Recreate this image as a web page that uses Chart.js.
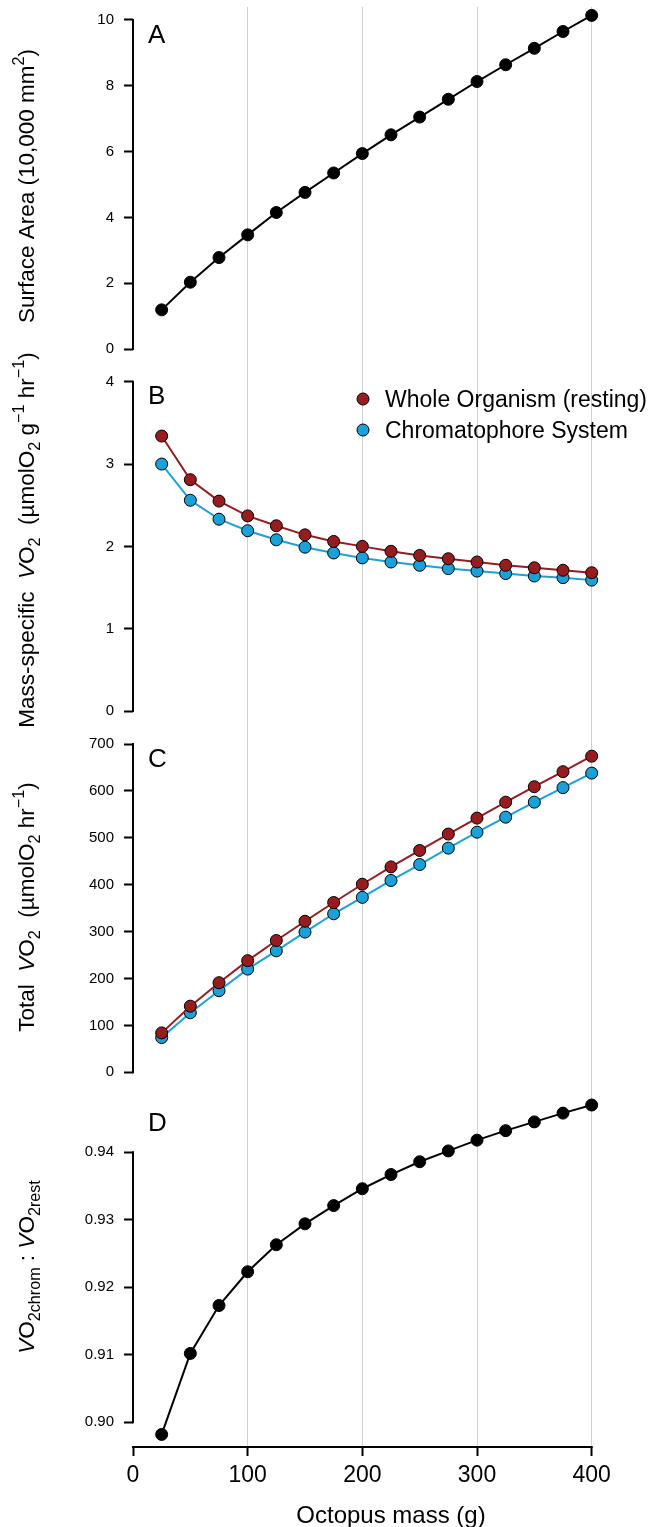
<!DOCTYPE html>
<html><head><meta charset="utf-8">
<script src="https://cdn.jsdelivr.net/npm/chart.js@4.4.1/dist/chart.umd.min.js"></script>
<style>html,body{margin:0;padding:0;background:#fff}canvas{display:block}</style>
</head><body>
<canvas id="c" width="672" height="1527"></canvas>
<script>
// ---------------- DATA ----------------
const mass = [25, 50, 75, 100, 125, 150, 175, 200, 225, 250, 275, 300, 325, 350, 375, 400];
const surfaceArea = [1.19, 2.03, 2.78, 3.47, 4.15, 4.76, 5.35, 5.94, 6.51, 7.05, 7.59, 8.13, 8.64, 9.14, 9.65, 10.14];
const msWhole = [3.34, 2.81, 2.55, 2.37, 2.25, 2.14, 2.06, 2.00, 1.94, 1.89, 1.85, 1.81, 1.77, 1.74, 1.71, 1.68];
const msChrom = [3.00, 2.56, 2.33, 2.19, 2.08, 1.99, 1.92, 1.86, 1.81, 1.77, 1.73, 1.70, 1.67, 1.64, 1.62, 1.59];
const totWhole = [84, 141, 191, 238, 281, 322, 362, 401, 438, 473, 508, 542, 576, 609, 641, 674];
const totChrom = [74, 127, 174, 220, 259, 299, 338, 373, 409, 443, 478, 512, 544, 576, 607, 638];
const ratio = [0.8982, 0.9102, 0.9173, 0.9223, 0.9263, 0.9294, 0.9321, 0.9346, 0.9367, 0.9386, 0.9402, 0.9418, 0.9432, 0.9445, 0.9458, 0.9470];
const seriesNames = ['Whole Organism (resting)', 'Chromatophore System'];
const xTicks = [0, 100, 200, 300, 400];
const yTicksA = [0, 2, 4, 6, 8, 10];
const yTicksB = [0, 1, 2, 3, 4];
const yTicksC = [0, 100, 200, 300, 400, 500, 600, 700];
const yTicksD = [0.90, 0.91, 0.92, 0.93, 0.94];
const yTickLabelsD = ['0.90', '0.91', '0.92', '0.93', '0.94'];
const panelLetters = ['A', 'B', 'C', 'D'];
const xTitle = 'Octopus mass (g)';
const titleA = [['Surface Area (10,000 mm'], ['2', 'sup'], [')']];
const titleB = [['Mass-specific  '], ['V', 'i'], ['O'], ['2', 'sub'], ['  (\u00b5molO'], ['2', 'sub'], [' g'], ['\u22121', 'sup'], [' hr'], ['\u22121', 'sup'], [')']];
const titleC = [['Total  '], ['V', 'i'], ['O'], ['2', 'sub'], ['  (\u00b5molO'], ['2', 'sub'], [' hr'], ['\u22121', 'sup'], [')']];
const titleD = [['V', 'i'], ['O'], ['2chrom', 'sub'], [' : '], ['V', 'i'], ['O'], ['2rest', 'sub']];

// ---------------- STYLE ----------------
const RED = '#971c1f';
const BLUE = '#1aa1d9';
const FONT = '"Liberation Sans", Arial, sans-serif';
Chart.defaults.font.family = FONT;
Chart.defaults.color = '#000';

const pts = ys => mass.map((m, i) => ({x: m, y: ys[i]}));
function series(label, yAxisID, ys, line, fill, border) {
  return {
    label, yAxisID, xAxisID: 'x', data: pts(ys),
    borderColor: line, borderWidth: 2, tension: 0, clip: false,
    pointRadius: 6, pointBackgroundColor: fill, pointBorderColor: border, pointBorderWidth: 1,
    pointHoverRadius: 6
  };
}

function yScale(ticks, labels, min, max, weight, order) {
  return {
    type: 'linear', position: 'left', stack: 'panels', stackWeight: weight, weight: order,
    min, max,
    border: {display: false},
    grid: {drawOnChartArea: false, drawTicks: true, tickLength: 9, tickWidth: 2, tickColor: '#000'},
    ticks: {autoSkip: false, padding: 10, color: '#000', font: {size: 15}, callback: (v, i) => labels[i]},
    afterBuildTicks: s => { s.ticks = ticks.map(v => ({value: v})); },
    afterFit: s => { s.width = 133; s.paddingTop = 0; s.paddingBottom = 0; }
  };
}

const panels = [
  {id: 'yA', title: titleA, letterDy: 36, titleDy: 0},
  {id: 'yB', title: titleB, letterDy: 39, titleDy: -6},
  {id: 'yC', title: titleC, letterDy: 40, titleDy: 0},
  {id: 'yD', title: titleD, letterDy: 44, titleDy: 0}
];

function drawRich(ctx, segs, cx, cy, size) {
  const sub = size * 0.72;
  const fontFor = st => (st === 'i' ? 'italic ' : '') + ((st === 'sup' || st === 'sub') ? sub : size) + 'px ' + FONT;
  let total = 0;
  const widths = segs.map(([t, st]) => { ctx.font = fontFor(st); const w = ctx.measureText(t).width; total += w; return w; });
  ctx.save();
  ctx.translate(cx, cy);
  ctx.rotate(-Math.PI / 2);
  ctx.fillStyle = '#000';
  ctx.textBaseline = 'alphabetic';
  ctx.textAlign = 'left';
  let x = -total / 2;
  segs.forEach(([t, st], i) => {
    ctx.font = fontFor(st);
    let dy = 0;
    if (st === 'sup') dy = -size * 0.45;
    if (st === 'sub') dy = size * 0.28;
    ctx.fillText(t, x, dy);
    x += widths[i];
  });
  ctx.restore();
}

const decor = {
  id: 'decor',
  afterDraw(chart) {
    const ctx = chart.ctx;
    const ca = chart.chartArea;
    const xs = chart.scales.x;
    ctx.save();
    ctx.strokeStyle = '#000';
    ctx.lineWidth = 2;
    panels.forEach(p => {
      const s = chart.scales[p.id];
      const t = s.ticks;
      const y1 = s.getPixelForValue(t[0].value);
      const y2 = s.getPixelForValue(t[t.length - 1].value);
      ctx.beginPath();
      ctx.moveTo(ca.left, y1 + 1);
      ctx.lineTo(ca.left, y2 - 1);
      ctx.stroke();
    });
    const xt = xs.ticks;
    ctx.beginPath();
    ctx.moveTo(xs.getPixelForValue(xt[0].value) - 1, ca.bottom);
    ctx.lineTo(xs.getPixelForValue(xt[xt.length - 1].value) + 1, ca.bottom);
    ctx.stroke();
    ctx.restore();

    panels.forEach((p, i) => {
      const s = chart.scales[p.id];
      ctx.save();
      ctx.fillStyle = '#000';
      ctx.font = '26px ' + FONT;
      ctx.textBaseline = 'alphabetic';
      ctx.fillText(panelLetters[i], ca.left + 15, s.top + p.letterDy);
      ctx.restore();
      drawRich(ctx, p.title, 34, (s.top + s.bottom) / 2 + p.titleDy, 22.5);
    });

    ctx.save();
    ctx.fillStyle = '#000';
    ctx.font = '24px ' + FONT;
    ctx.textAlign = 'center';
    ctx.textBaseline = 'alphabetic';
    ctx.fillText(xTitle, (ca.left + ca.right) / 2, xs.top + 76);
    ctx.restore();

    const sB = chart.scales.yB;
    const legendColors = [RED, BLUE];
    seriesNames.forEach((name, i) => {
      const cy = sB.top + 34 + i * 31;
      ctx.save();
      ctx.beginPath();
      ctx.arc(363, cy, 6, 0, Math.PI * 2);
      ctx.fillStyle = legendColors[i];
      ctx.fill();
      ctx.lineWidth = 1;
      ctx.strokeStyle = '#000';
      ctx.stroke();
      ctx.fillStyle = '#000';
      ctx.font = '23px ' + FONT;
      ctx.textBaseline = 'alphabetic';
      ctx.fillText(name, 385, cy + 8.2);
      ctx.restore();
    });
  }
};

new Chart(document.getElementById('c'), {
  type: 'line',
  data: {
    datasets: [
      series('Surface Area', 'yA', surfaceArea, '#000', '#000', '#000'),
      series(seriesNames[0], 'yB', msWhole, RED, RED, '#000'),
      series(seriesNames[1], 'yB', msChrom, BLUE, BLUE, '#000'),
      series(seriesNames[0], 'yC', totWhole, RED, RED, '#000'),
      series(seriesNames[1], 'yC', totChrom, BLUE, BLUE, '#000'),
      series('Ratio', 'yD', ratio, '#000', '#000', '#000')
    ]
  },
  options: {
    responsive: false,
    animation: false,
    events: [],
    layout: {padding: {top: 7, right: 23, left: 0, bottom: 0}},
    plugins: {legend: {display: false}, tooltip: {enabled: false}},
    scales: {
      x: {
        type: 'linear', position: 'bottom', min: 0, max: 450,
        border: {display: false},
        grid: {
          color: ctx => (ctx.tick && ctx.tick.value === 0) ? 'rgba(0,0,0,0)' : '#cfcfcf',
          lineWidth: 1, drawTicks: true, tickLength: 9, tickWidth: 2, tickColor: '#000'
        },
        ticks: {autoSkip: false, maxRotation: 0, padding: 6, color: '#000', font: {size: 23}, callback: v => String(v)},
        afterBuildTicks: s => { s.ticks = xTicks.map(v => ({value: v})); },
        afterFit: s => { s.height = 80; s.paddingLeft = 0; s.paddingRight = 0; }
      },
      yA: yScale(yTicksA, yTicksA.map(String), -0.486, 10.395, 358, 40),
      yB: yScale(yTicksB, yTicksB.map(String), -0.194, 4.203, 362, 30),
      yC: yScale(yTicksC, yTicksC.map(String), -31.4, 736.3, 360, 20),
      yD: yScale(yTicksD, yTickLabelsD, 0.89634, 0.94967, 360, 10)
    }
  },
  plugins: [decor]
});
</script>
</body></html>
